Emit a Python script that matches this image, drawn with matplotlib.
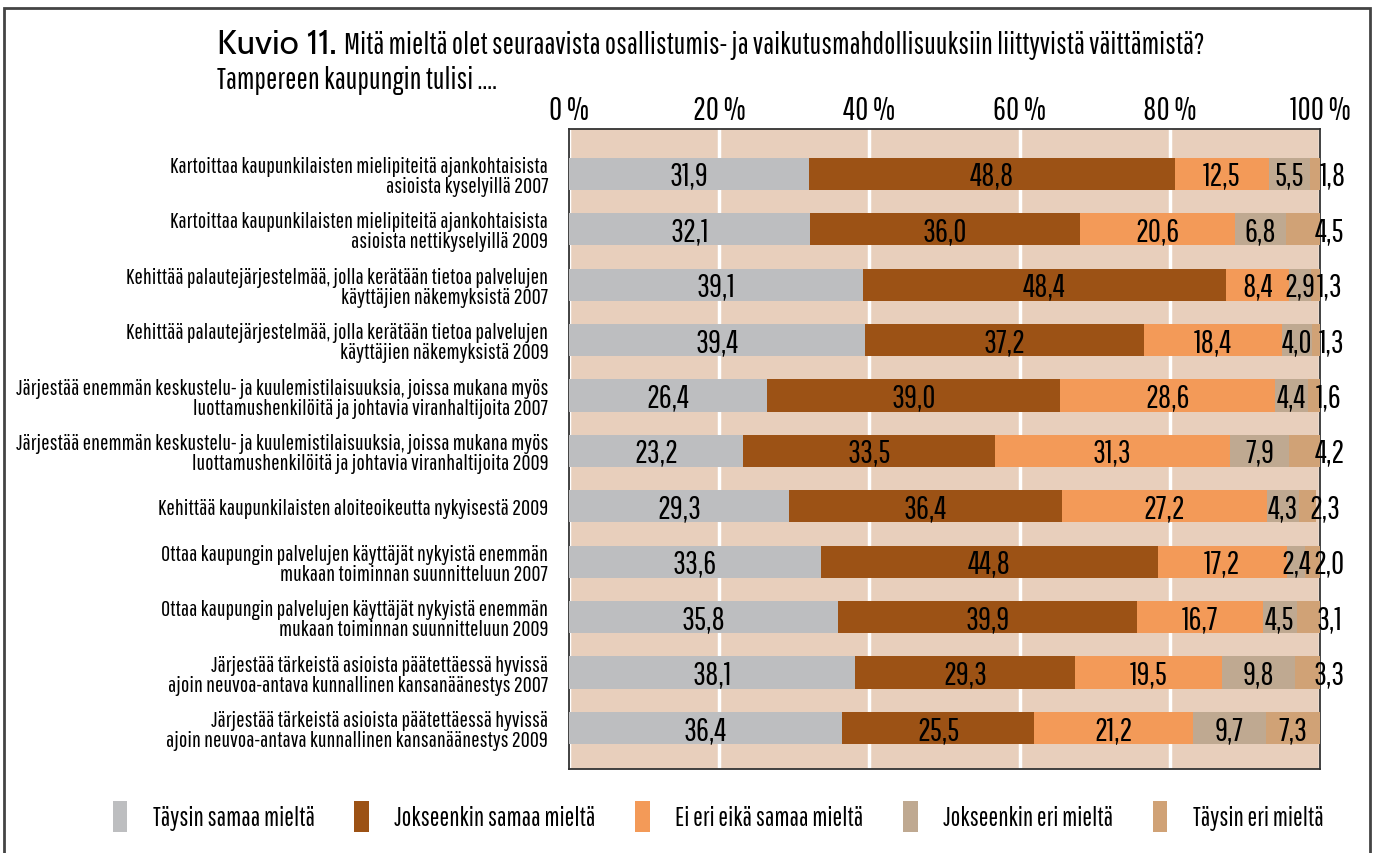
import matplotlib
matplotlib.use('Agg')

import numpy as np
import matplotlib.pyplot as plt
from matplotlib.patches import Patch, Rectangle

plt.rcParams['font.family'] = ['Pathway Gothic One', 'DejaVu Sans']

# Väittämät (rivit ylhäältä alas)
vaittamat = [
    'Kartoittaa kaupunkilaisten mielipiteitä ajankohtaisista\nasioista kyselyillä 2007',
    'Kartoittaa kaupunkilaisten mielipiteitä ajankohtaisista\nasioista nettikyselyillä 2009',
    'Kehittää palautejärjestelmää, jolla kerätään tietoa palvelujen\nkäyttäjien näkemyksistä 2007',
    'Kehittää palautejärjestelmää, jolla kerätään tietoa palvelujen\nkäyttäjien näkemyksistä 2009',
    'Järjestää enemmän keskustelu- ja kuulemistilaisuuksia, joissa mukana myös\nluottamushenkilöitä ja johtavia viranhaltijoita 2007',
    'Järjestää enemmän keskustelu- ja kuulemistilaisuuksia, joissa mukana myös\nluottamushenkilöitä ja johtavia viranhaltijoita 2009',
    'Kehittää kaupunkilaisten aloiteoikeutta nykyisestä 2009',
    'Ottaa kaupungin palvelujen käyttäjät nykyistä enemmän\nmukaan toiminnan suunnitteluun 2007',
    'Ottaa kaupungin palvelujen käyttäjät nykyistä enemmän\nmukaan toiminnan suunnitteluun 2009',
    'Järjestää tärkeistä asioista päätettäessä hyvissä\najoin neuvoa-antava kunnallinen kansanäänestys 2007',
    'Järjestää tärkeistä asioista päätettäessä hyvissä\najoin neuvoa-antava kunnallinen kansanäänestys 2009',
]

vastaukset = ['Täysin samaa mieltä', 'Jokseenkin samaa mieltä', 'Ei eri eikä samaa mieltä',
              'Jokseenkin eri mieltä', 'Täysin eri mieltä']

taysin_samaa = [31.9, 32.1, 39.1, 39.4, 26.4, 23.2, 29.3, 33.6, 35.8, 38.1, 36.4]
jokseenkin_samaa = [48.8, 36.0, 48.4, 37.2, 39.0, 33.5, 36.4, 44.8, 39.9, 29.3, 25.5]
ei_eri_eika_samaa = [12.5, 20.6, 8.4, 18.4, 28.6, 31.3, 27.2, 17.2, 16.7, 19.5, 21.2]
jokseenkin_eri = [5.5, 6.8, 2.9, 4.0, 4.4, 7.9, 4.3, 2.4, 4.5, 9.8, 9.7]
taysin_eri = [1.8, 4.5, 1.3, 1.3, 1.6, 4.2, 2.3, 2.0, 3.1, 3.3, 7.3]

sarjat = [taysin_samaa, jokseenkin_samaa, ei_eri_eika_samaa, jokseenkin_eri, taysin_eri]
varit = ['#BDBEC0', '#9C5215', '#F39A58', '#BFA991', '#D0A276']

fig = plt.figure(figsize=(13.76, 8.54), dpi=100)
ax = fig.add_axes([0.4135, 0.0984, 0.5458, 0.7494])
ax.set_facecolor('#E8CFBC')

y = np.arange(len(vaittamat))
vasen = np.zeros(len(vaittamat))
for i, (arvot, vari) in enumerate(zip(sarjat, varit)):
    arvot = np.array(arvot)
    ax.barh(y, arvot, left=vasen, height=0.58, color=vari, zorder=3)
    for j, v in enumerate(arvot):
        xc = vasen[j] + v / 2
        if i == len(sarjat) - 1 and v < 5:
            xc = vasen[j] + v + 1.2
        ax.text(xc, y[j] + 0.03, f'{v:.1f}'.replace('.', ','), ha='center', va='center',
                fontsize=23, color='black', zorder=4)
    vasen += arvot

ax.set_xlim(0, 100)
ax.set_ylim(len(vaittamat) - 0.26, -0.81)
ax.xaxis.tick_top()
ax.set_xticks(range(0, 101, 20))
ax.set_xticklabels([f'{t} %' for t in range(0, 101, 20)], fontsize=23)
ax.tick_params(axis='x', length=0, pad=3)
ax.set_yticks(y)
ax.set_yticklabels(vaittamat, fontsize=16, linespacing=1.0)
ax.tick_params(axis='y', length=0, pad=15)
ax.grid(axis='x', color='white', linewidth=2.5, zorder=1)
for s in ax.spines.values():
    s.set_color('#333333')
    s.set_linewidth(1.3)

fig.text(0.158, 0.947, 'Kuvio 11.', fontsize=25, va='center', ha='left',
         family=['Cabin', 'DejaVu Sans'])
fig.text(0.25, 0.947, 'Mitä mieltä olet seuraavista osallistumis- ja vaikutusmahdollisuuksiin liittyvistä väittämistä?',
         fontsize=21.5, va='center', ha='left')
fig.text(0.158, 0.906, 'Tampereen kaupungin tulisi ....', fontsize=21.5, va='center', ha='left')

kahvat = [Patch(facecolor=c, edgecolor='none') for c in varit]
fig.legend(kahvat, vastaukset, loc='center', bbox_to_anchor=(0.522, 0.043), ncol=5,
           frameon=False, fontsize=18.5, handlelength=0.55, handleheight=1.5,
           handletextpad=1.0, columnspacing=1.55)

fig.patches.append(Rectangle((0.003, -0.01), 0.993, 0.999, transform=fig.transFigure,
                             fill=False, edgecolor='#444444', linewidth=2))

fig.savefig('out.png', dpi=100)
